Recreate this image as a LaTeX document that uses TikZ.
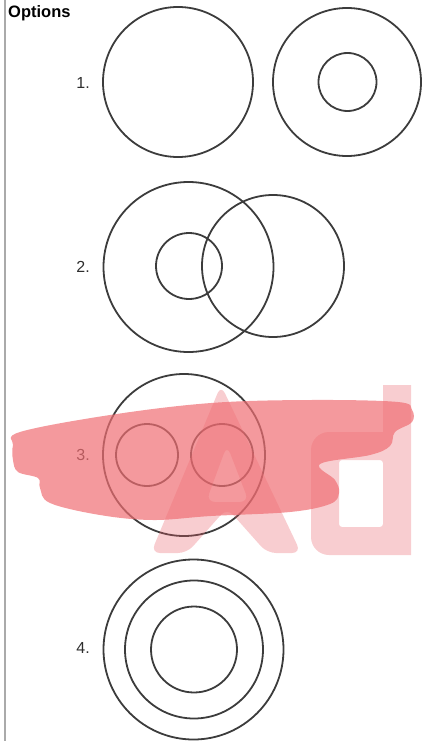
\documentclass[tikz,border=0pt]{standalone}
\usepackage{fontspec}
\setmainfont{Liberation Sans}
\usepackage{xcolor}
\usepackage{tikz}
\usetikzlibrary{positioning}
\definecolor{ink}{RGB}{60,60,60}
\definecolor{numgray}{RGB}{45,45,45}
\definecolor{sidegray}{RGB}{170,170,170}
\definecolor{marker}{RGB}{240,110,115}
\definecolor{wmark}{RGB}{232,90,100}
\tikzset{
  ring/.style={draw=ink, line width=1.8pt},
  num/.style={font=\fontsize{16}{19}\selectfont, text=numgray, anchor=east, inner sep=0pt},
  head/.style={font=\fontsize{16.5}{19}\selectfont\bfseries, anchor=base west, inner sep=0pt},
  scrib/.style={fill=marker, opacity=0.7},
  stamp/.style={fill=wmark, opacity=0.3, even odd rule}}

\begin{document}
\begin{tikzpicture}[x=1pt,y=-1pt]
  \useasboundingbox (0,0) rectangle (422,741);
  % side rule and heading
  \draw[sidegray, line width=2pt] (5,0) -- (5,741);
  \node[head] (title) at (8,18) {Options};
  % option 1
  \node[num] (n1) at (90,83) {1.};
  \draw[ring] (178,82) circle[radius=75pt];
  \draw[ring] (347,82) circle[radius=74pt];
  \draw[ring] (347.5,82) circle[radius=29pt];
  % option 2
  \node[num] (n2) at (90,267) {2.};
  \draw[ring] (188.5,267) circle[radius=85pt];
  \draw[ring] (189,266) circle[radius=33pt];
  \draw[ring] (273,266) circle[radius=71pt];
  % option 3
  \node[num] (n3) at (90,455) {3.};
  \draw[ring] (184,455) circle[radius=81pt];
  \draw[ring] (147,455) circle[radius=31pt];
  \draw[ring] (222,455) circle[radius=31pt];
  % option 4
  \node[num] (n4) at (90,648) {4.};
  \draw[ring] (193.5,649.5) circle[radius=90pt];
  \draw[ring] (194,649.5) circle[radius=69pt];
  \draw[ring] (194,649.5) circle[radius=43pt];
  % watermark
  \fill[stamp, rounded corners=9pt] (151,553) -- (221,385) -- (301,553) -- (267,553) -- (227,508) -- (187,553) -- cycle
    (227,445) -- (206,502) -- (249,502) -- cycle;
  \fill[stamp] (383,385) -- (411,385) -- (411,555) [rounded corners=18pt] -- (311,555) -- (311,432) [sharp corners] -- (383,432) -- cycle
    [rounded corners=3pt] (339,460) -- (383,460) -- (383,527) -- (339,527) -- cycle;
  % marker scribble
  \fill[scrib] plot[smooth cycle, tension=0.6] coordinates {(20,432) (110,415) (211,403) (311,400) (398,402) (412,410)
    (412,422) (395,432) (390,446) (370,455) (320,464) (335,480) (339,493) (330,504) (290,512) (211,516) (153,520)
    (100,515) (50,503) (40,488) (38,478) (18,472) (13,460) (13,445)};
\end{tikzpicture}
\end{document}
